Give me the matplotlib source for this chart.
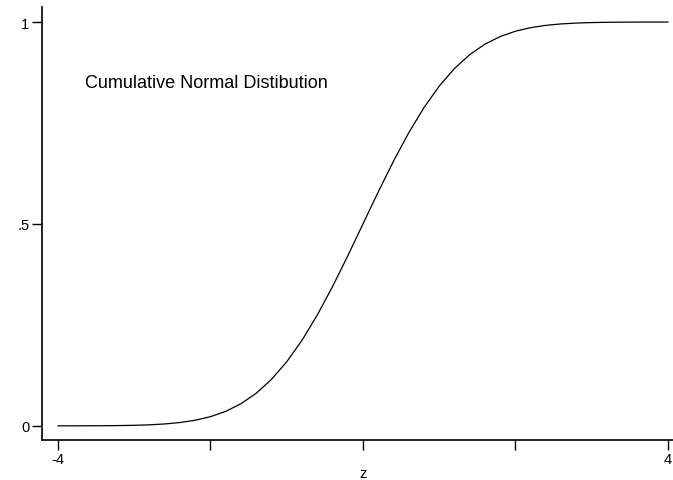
import matplotlib
matplotlib.use("Agg")
import matplotlib.pyplot as plt

# values, z in steps of 0.2
z_values = [-4.0, -3.8, -3.6, -3.4, -3.2, -3.0, -2.8, -2.6, -2.4, -2.2,
            -2.0, -1.8, -1.6, -1.4, -1.2, -1.0, -0.8, -0.6, -0.4, -0.2,
            0.0, 0.2, 0.4, 0.6, 0.8, 1.0, 1.2, 1.4, 1.6, 1.8,
            2.0, 2.2, 2.4, 2.6, 2.8, 3.0, 3.2, 3.4, 3.6, 3.8, 4.0]
cdf_values = [0.00003, 0.00007, 0.00016, 0.00034, 0.00069, 0.00135, 0.00256, 0.00466, 0.00820, 0.01390,
              0.02275, 0.03593, 0.05480, 0.08076, 0.11507, 0.15866, 0.21186, 0.27425, 0.34458, 0.42074,
              0.50000, 0.57926, 0.65542, 0.72575, 0.78814, 0.84134, 0.88493, 0.91924, 0.94520, 0.96407,
              0.97725, 0.98610, 0.99180, 0.99534, 0.99744, 0.99865, 0.99931, 0.99966, 0.99984, 0.99993, 0.99997]

x_ticks = [-4, -2, 0, 2, 4]
x_tick_labels = ["-4", "", "", "", "4"]
y_ticks = [0, 0.5, 1]
y_tick_labels = ["0", ".5", "1"]

plt.rcParams["font.family"] = ["Liberation Sans", "DejaVu Sans"]

fig = plt.figure(figsize=(6.73, 4.81), dpi=100)
ax = fig.add_axes([0.0624, 0.0832, 0.9376, 0.9])

ax.plot(z_values, cdf_values, color="black", linewidth=0.9)

ax.set_xlim(-4.21, 4.066)
ax.set_ylim(-0.035, 1.037)

ax.set_xticks(x_ticks)
ax.set_xticklabels(x_tick_labels)
ax.set_yticks(y_ticks)
ax.set_yticklabels(y_tick_labels)
ax.tick_params(direction="out", length=7, width=1, labelsize=10.5, color="black", pad=2)

for side in ["top", "right"]:
    ax.spines[side].set_visible(False)
for side in ["left", "bottom"]:
    ax.spines[side].set_linewidth(1.2)

ax.set_xlabel("z", fontsize=10.5, labelpad=0)
# label sits under z = 0, not the middle of the axes
x0, x1 = ax.get_xlim()
ax.xaxis.label.set_x((0 - x0) / (x1 - x0))
ax.text(-3.65, 0.85, "Cumulative Normal Distibution", fontsize=13, va="center", ha="left")

fig.savefig("out.png", dpi=100)
